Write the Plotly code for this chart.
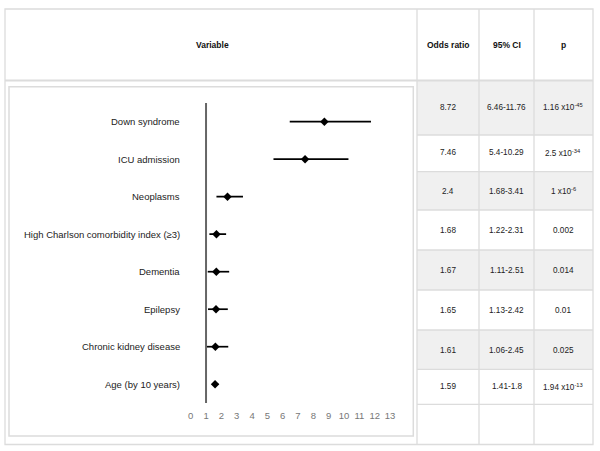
import plotly.graph_objects as go

variables = ["Down syndrome", "ICU admission", "Neoplasms",
             "High Charlson comorbidity index (≥3)", "Dementia", "Epilepsy",
             "Chronic kidney disease", "Age (by 10 years)"]
odds = [8.72, 7.46, 2.4, 1.68, 1.67, 1.65, 1.61, 1.59]
ci_low = [6.46, 5.4, 1.68, 1.22, 1.11, 1.13, 1.06, 1.41]
ci_high = [11.76, 10.29, 3.41, 2.31, 2.51, 2.42, 2.45, 1.8]
ci_text = ["6.46-11.76", "5.4-10.29", "1.68-3.41", "1.22-2.31", "1.11-2.51",
           "1.13-2.42", "1.06-2.45", "1.41-1.8"]
p_text = ["1.16 x10<sup>-45</sup>", "2.5 x10<sup>-34</sup>", "1 x10<sup>-6</sup>",
          "0.002", "0.014", "0.01", "0.025", "1.94 x10<sup>-13</sup>"]
headers = ["Variable", "Odds ratio", "95% CI", "p"]
x_ticks = list(range(0, 14))

W, H = 600, 451
def px(x):
    return x / W
def py(y):
    return 1 - y / H

BORDER = "#dcdcdc"
GRAYFILL = "#f0f0f0"
TXT = "#222222"
FONT = "Liberation Sans"

fig = go.Figure()
ypos = list(range(len(variables)))

fig.add_trace(go.Scatter(
    x=odds, y=ypos, mode="markers",
    marker=dict(symbol="diamond", size=6.5, color="black"),
    error_x=dict(type="data", symmetric=False,
                 array=[h - o for h, o in zip(ci_high, odds)],
                 arrayminus=[o - l for o, l in zip(odds, ci_low)],
                 color="black", thickness=1.7, width=0),
    showlegend=False, hoverinfo="skip"))

shapes = []
# table geometry (pixels)
left, right, top, bottom = 5, 593, 9, 444.5
header_bottom = 80.5
col_lines = [417, 479, 534]
row_lines = [80.5, 135, 171.7, 210, 250, 290, 330, 369.3, 404.3, 444.5]
# row fills
for i in range(len(row_lines) - 1):
    if i < len(variables) and i % 2 == 0:
        shapes.append(dict(type="rect", xref="paper", yref="paper",
                           x0=px(col_lines[0]), x1=px(right),
                           y0=py(row_lines[i + 1]), y1=py(row_lines[i]),
                           fillcolor=GRAYFILL, line=dict(width=0), layer="below"))
# grid lines
line_style = dict(color=BORDER, width=1.3)
shapes.append(dict(type="rect", xref="paper", yref="paper",
                   x0=px(left), x1=px(right), y0=py(bottom), y1=py(top),
                   line=line_style, layer="below"))
shapes.append(dict(type="line", xref="paper", yref="paper",
                   x0=px(left), x1=px(right), y0=py(header_bottom), y1=py(header_bottom),
                   line=dict(color=BORDER, width=2), layer="below"))
for cx in col_lines:
    shapes.append(dict(type="line", xref="paper", yref="paper",
                       x0=px(cx), x1=px(cx), y0=py(bottom), y1=py(top),
                       line=line_style, layer="below"))
for ry in row_lines[1:-1]:
    shapes.append(dict(type="line", xref="paper", yref="paper",
                       x0=px(col_lines[0]), x1=px(right), y0=py(ry), y1=py(ry),
                       line=line_style, layer="below"))
# inner plot box
shapes.append(dict(type="rect", xref="paper", yref="paper",
                   x0=px(9), x1=px(413.3), y0=py(436), y1=py(86.7),
                   line=dict(color=BORDER, width=1.5), layer="below"))
# reference line at OR = 1
shapes.append(dict(type="line", xref="x", yref="y", x0=1, x1=1, y0=-0.5, y1=7.5,
                   line=dict(color="#666666", width=2), layer="below"))

annotations = []
for v, y in zip(variables, ypos):
    annotations.append(dict(xref="paper", yref="y", x=px(182), y=y, text=v,
                            xanchor="right", yanchor="middle", showarrow=False,
                            font=dict(family=FONT, size=9.5, color=TXT)))
# header texts
hx = [212, 448, 506.5, 563]
for t, x in zip(headers, hx):
    annotations.append(dict(xref="paper", yref="paper", x=px(x), y=py(45),
                            text="<b>" + t + "</b>", showarrow=False,
                            xanchor="center", yanchor="middle",
                            font=dict(family=FONT, size=8.5, color="#111111")))
text_y = [107, 152.7, 191, 230, 270.7, 310, 350, 386.7]
for i in range(len(variables)):
    for x, t in zip([448, 506.5, 563], [str(odds[i]), ci_text[i], p_text[i]]):
        annotations.append(dict(xref="paper", yref="paper", x=px(x), y=py(text_y[i]),
                                text=t, showarrow=False, xanchor="center", yanchor="middle",
                                font=dict(family=FONT, size=8.2, color=TXT)))

fig.update_layout(
    width=W, height=H, autosize=False,
    margin=dict(l=0, r=0, t=0, b=0),
    paper_bgcolor="white", plot_bgcolor="rgba(0,0,0,0)",
    shapes=shapes, annotations=annotations,
    xaxis=dict(domain=[px(9), px(413.3)],
               range=[(9 - 190.7) / 15.33, (413.3 - 190.7) / 15.33],
               tickvals=x_ticks, ticktext=[str(t) for t in x_ticks],
               showgrid=False, zeroline=False, showline=False, ticks="",
               anchor="free", position=py(408),
               tickfont=dict(family=FONT, size=9.5, color="#777777")),
    yaxis=dict(domain=[py(436), py(86.7)],
               range=[(436 - 121.7) / 37.5, (86.7 - 121.7) / 37.5],
               visible=False, showgrid=False, zeroline=False),
)

fig.write_html("out.html", config={"displayModeBar": False},
               post_script="document.body.style.margin='0';document.body.style.padding='0';")
